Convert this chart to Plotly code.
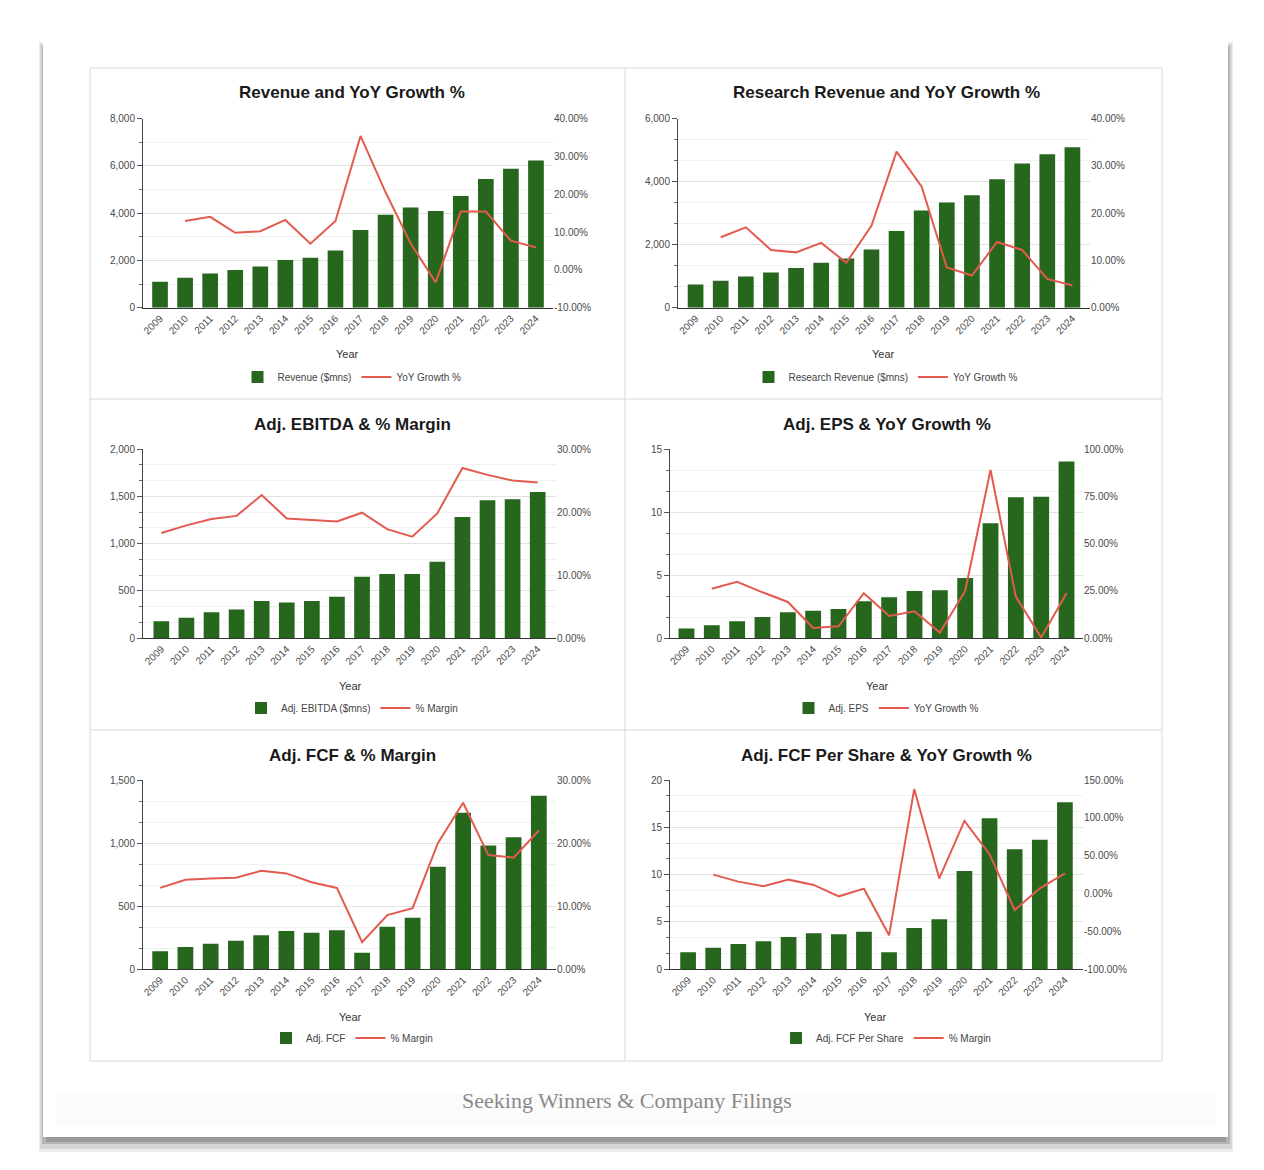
import plotly.graph_objects as go

# ---------------- data ----------------
years = ["2009", "2010", "2011", "2012", "2013", "2014", "2015", "2016",
         "2017", "2018", "2019", "2020", "2021", "2022", "2023", "2024"]

revenue = [1099, 1268, 1451, 1592, 1746, 2014, 2113, 2423, 3282, 3930, 4239, 4085, 4718, 5437, 5873, 6225]
revenue_growth = [None, 12.9, 14.0, 9.8, 10.2, 13.2, 6.9, 12.9, 35.4, 20.5, 7.0, -3.3, 15.4, 15.4, 7.7, 5.9]

research_revenue = [739, 856, 993, 1120, 1257, 1426, 1563, 1849, 2430, 3085, 3338, 3570, 4077, 4574, 4870, 5092]
research_growth = [None, 14.9, 17.0, 12.2, 11.7, 13.7, 9.5, 17.3, 33.0, 25.6, 8.5, 6.8, 13.9, 12.2, 6.1, 4.7]

ebitda = [180, 218, 275, 303, 394, 377, 394, 440, 651, 680, 680, 810, 1282, 1458, 1468, 1546]
ebitda_margin = [16.7, 17.9, 18.9, 19.4, 22.7, 19.0, 18.75, 18.5, 19.9, 17.3, 16.1, 19.8, 27.0, 25.9, 25.0, 24.7]

eps = [0.77, 1.03, 1.35, 1.69, 2.06, 2.19, 2.32, 2.93, 3.25, 3.75, 3.80, 4.78, 9.11, 11.17, 11.22, 14.0]
eps_growth = [None, 26.2, 29.8, 24.3, 19.2, 5.5, 6.3, 23.8, 11.8, 14.3, 3.0, 25.0, 88.9, 22.0, 0.4, 23.8]

fcf = [143, 177, 203, 227, 269, 304, 290, 309, 132, 338, 409, 813, 1241, 980, 1046, 1376]
fcf_margin = [12.9, 14.2, 14.4, 14.5, 15.6, 15.2, 13.8, 12.9, 4.3, 8.6, 9.7, 20.0, 26.4, 18.1, 17.7, 22.0]

fcf_per_share = [1.80, 2.29, 2.68, 2.96, 3.42, 3.80, 3.70, 3.98, 1.80, 4.37, 5.28, 10.39, 15.95, 12.68, 13.70, 17.64]
fcf_per_share_growth = [None, 25.0, 15.8, 9.6, 18.4, 11.4, -3.6, 6.5, -55.1, 138.0, 20.0, 96.0, 52.0, -21.7, 7.0, 26.8]

titles = ["Revenue and YoY Growth %", "Research Revenue and YoY Growth %",
          "Adj. EBITDA & % Margin", "Adj. EPS & YoY Growth %",
          "Adj. FCF & % Margin", "Adj. FCF Per Share & YoY Growth %"]
bar_names = ["Revenue ($mns)", "Research Revenue ($mns)", "Adj. EBITDA ($mns)",
             "Adj. EPS", "Adj. FCF", "Adj. FCF Per Share"]
line_names = ["YoY Growth %", "YoY Growth %", "% Margin", "YoY Growth %", "% Margin", "% Margin"]
bar_series = [revenue, research_revenue, ebitda, eps, fcf, fcf_per_share]
line_series = [revenue_growth, research_growth, ebitda_margin, eps_growth, fcf_margin, fcf_per_share_growth]

# left axis: min, max, major step, number of minor divisions
left_ranges = [(0, 8000, 2000, 8), (0, 6000, 2000, 9), (0, 2000, 500, 12),
               (0, 15, 5, 9), (0, 1500, 500, 9), (0, 20, 5, 12)]
# right axis tick values (percent)
right_ticks = [[-10, 0, 10, 20, 30, 40], [0, 10, 20, 30, 40], [0, 10, 20, 30],
               [0, 25, 50, 75, 100], [0, 10, 20, 30], [-100, -50, 0, 50, 100, 150]]

caption = "Seeking Winners & Company Filings"

# ---------------- geometry (page pixels) ----------------
W, H = 1248, 1154
OX, OY = 8, 8


def fx(x):
    return (x - OX) / W


def fy(y):
    return 1 - (y - OY) / H


# left, right, top, bottom, category pad, title x, title y, year x, year y, legend x, legend y
geo = [
    (143, 553, 118.5, 307.7, 0.18, 352, 92.5, 348, 354, 352, 377),
    (678, 1090, 118.5, 307.7, 0.20, 886, 92.5, 884, 354, 886, 377),
    (143, 556, 449, 638.3, 0.23, 352, 424, 350, 686, 352, 708),
    (670, 1083, 449, 638.3, 0.15, 887, 424, 877, 686, 886, 708),
    (143, 556, 780, 969.3, 0.18, 352, 755, 350, 1017, 352, 1038),
    (670, 1083, 780, 969.3, 0.22, 886, 755, 875, 1017, 886, 1038),
]

BAR = "#26661d"
LINE = "#e35a4e"
FONT = "Arial, Liberation Sans, sans-serif"
TICKC = "#4a4a4a"

fig = go.Figure()
layout = dict()
annotations = []
shapes = []

for i in range(6):
    n = i + 1
    xref = "x" if n == 1 else f"x{n}"
    yl = 2 * n - 1
    yr = 2 * n
    ylref = "y" if yl == 1 else f"y{yl}"
    yrref = f"y{yr}"
    leg = "legend" if n == 1 else f"legend{n}"
    L, R, T, B, pad, tx, ty, yx, yy, lx, ly = geo[i]

    fig.add_trace(go.Bar(x=years, y=bar_series[i], name=bar_names[i], marker_color=BAR,
                         marker_line_width=0, xaxis=xref, yaxis=ylref, legend=leg))
    fig.add_trace(go.Scatter(x=years, y=line_series[i], name=line_names[i], mode="lines",
                             line=dict(color=LINE, width=2), xaxis=xref, yaxis=yrref,
                             legend=leg, connectgaps=False))

    lo, hi, dt, nminor = left_ranges[i]
    rt = right_ticks[i]

    layout["xaxis" if n == 1 else f"xaxis{n}"] = dict(
        domain=[fx(L), fx(R)], anchor=ylref, type="category", automargin=False,
        range=[-0.5 - pad, 15.5 + pad], tickangle=-45,
        tickfont=dict(size=10, color=TICKC, family=FONT),
        showline=True, linecolor="#333333", linewidth=1, ticks="", showgrid=False,
        zeroline=False, fixedrange=True)
    layout["yaxis" if yl == 1 else f"yaxis{yl}"] = dict(
        domain=[fy(B), fy(T)], anchor=xref, range=[lo, hi], tick0=0, dtick=dt,
        automargin=False,
        tickformat=",", tickfont=dict(size=10, color=TICKC, family=FONT),
        showline=True, linecolor="#444444", linewidth=1,
        ticks="outside", ticklen=5, tickcolor="#555555",
        showgrid=True, gridcolor="#e2e2e2", gridwidth=1, zeroline=False,
        minor=dict(dtick=(hi - lo) / nminor, tick0=0, showgrid=True, gridcolor="#f1f1f1",
                   ticks="outside", ticklen=3, tickcolor="#666666"),
        fixedrange=True)
    layout[f"yaxis{yr}"] = dict(
        overlaying=ylref, side="right", anchor=xref, range=[rt[0], rt[-1]],
        automargin=False, tickmode="array", tickvals=rt,
        ticktext=[f"{v:.2f}%" for v in rt], tickfont=dict(size=10, color=TICKC, family=FONT),
        showgrid=False, showline=False, zeroline=False, ticks="", fixedrange=True)

    layout[leg] = dict(x=fx(lx), y=fy(ly), xanchor="center", yanchor="middle",
                       orientation="h", font=dict(size=10, color="#444444", family=FONT),
                       bgcolor="rgba(0,0,0,0)", itemwidth=30, traceorder="normal")

    annotations.append(dict(text=f"<b>{titles[i]}</b>", x=fx(tx), y=fy(ty), xref="paper",
                            yref="paper", showarrow=False, xanchor="center", yanchor="middle",
                            font=dict(size=17, color="#1a1a1a", family=FONT)))
    annotations.append(dict(text="Year", x=fx(yx), y=fy(yy), xref="paper", yref="paper",
                            showarrow=False, xanchor="center", yanchor="middle",
                            font=dict(size=11, color="#333333", family=FONT)))

annotations.append(dict(text=caption, x=fx(627), y=fy(1100), xref="paper", yref="paper",
                        showarrow=False, xanchor="center", yanchor="middle",
                        font=dict(size=22, color="#8a8a8a", family="Liberation Serif, DejaVu Serif, serif")))


def rect(x0, y0, x1, y1, fill, line=None, lw=0):
    return dict(type="rect", xref="paper", yref="paper", x0=fx(x0), x1=fx(x1),
                y0=fy(y1), y1=fy(y0), fillcolor=fill, layer="below",
                line=dict(width=lw, color=line or "rgba(0,0,0,0)"))


def hline(x0, x1, y, color):
    return dict(type="line", xref="paper", yref="paper", x0=fx(x0), x1=fx(x1),
                y0=fy(y), y1=fy(y), line=dict(color=color, width=1), layer="below")


def vline(x, y0, y1, color):
    return dict(type="line", xref="paper", yref="paper", x0=fx(x), x1=fx(x),
                y0=fy(y0), y1=fy(y1), line=dict(color=color, width=1), layer="below")


# card shadow
shapes.append(rect(39, 42, 1233, 1152, "#ececec"))
shapes.append(rect(40, 44, 1232, 1149, "#d6d6d6"))
shapes.append(rect(42, 46, 1230, 1144, "#b5b5b5"))
shapes.append(rect(46, 1136, 1226, 1142, "#9a9a9a"))
# card
shapes.append(rect(43, 35, 1228, 1137, "#ffffff"))
shapes.append(rect(56, 1094, 1216, 1125, "#fbfbfb"))
# panel borders
BC = "#d9d9d9"
shapes.append(rect(90, 68, 1162, 1061, "rgba(0,0,0,0)", BC, 1))
shapes.append(vline(625, 68, 1061, BC))
shapes.append(hline(90, 1162, 399, BC))
shapes.append(hline(90, 1162, 730, BC))

fig.update_layout(
    template="none",
    width=W, height=H, autosize=False, margin=dict(l=0, r=0, t=0, b=0, pad=0, autoexpand=False),
    paper_bgcolor="#ffffff", plot_bgcolor="rgba(0,0,0,0)",
    bargap=0.375, showlegend=True, annotations=annotations, shapes=shapes,
    font=dict(family=FONT, size=10, color="#444444"),
    **layout)

fig.write_html("out.html")
